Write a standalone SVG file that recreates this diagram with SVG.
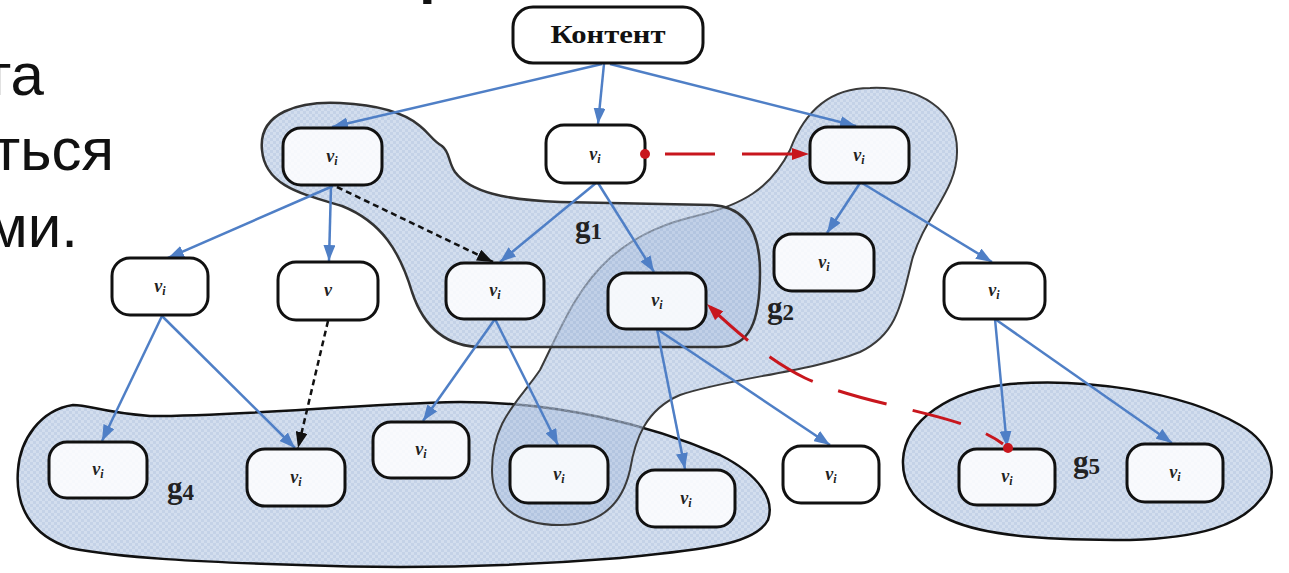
<svg xmlns="http://www.w3.org/2000/svg" width="1289" height="573" viewBox="0 0 1289 573">
  <style>
    .lead { font-family: "Liberation Sans", Arial, sans-serif; font-size: 60px; fill: #111; }
    .node { fill: #fff; fill-opacity: 0.85; stroke: #111; stroke-width: 3; }
    .vlab { font-family: "Liberation Serif", "Times New Roman", serif; font-style: italic; font-weight: bold; font-size: 18px; fill: #222; text-anchor: middle; }
    .vlab .sub { font-size: 12px; }
    .glab { font-family: "Liberation Serif", "Times New Roman", serif; font-weight: bold; font-size: 31px; fill: #222; }
    .glab .sub { font-size: 23px; }
    .blob { fill: url(#hatch); }
    .edge { stroke: #4f7fc6; stroke-width: 2.5; fill: none; marker-end: url(#arrBlue); }
    .dep { stroke: #111; stroke-width: 2.5; fill: none; stroke-dasharray: 6 4; marker-end: url(#arrBlack); }
    .link { stroke: #c8161d; stroke-width: 3; fill: none; stroke-dasharray: 50 27; marker-end: url(#arrRed); }
  </style>
  <defs>
    <pattern id="hatch" width="6" height="6" patternUnits="userSpaceOnUse">
      <rect width="6" height="6" fill="#b3c6e1" fill-opacity="0.58"/>
      <rect width="3" height="3" fill="#9fb6d8" fill-opacity="0.3"/>
      <rect x="3" y="3" width="3" height="3" fill="#9fb6d8" fill-opacity="0.3"/>
    </pattern>
    <marker id="arrBlue" markerUnits="userSpaceOnUse" markerWidth="16" markerHeight="12" refX="16" refY="6" orient="auto">
      <path d="M0,0 L16,6 L0,12 Z" fill="#4f7fc6"/>
    </marker>
    <marker id="arrBlack" markerUnits="userSpaceOnUse" markerWidth="16" markerHeight="12" refX="16" refY="6" orient="auto">
      <path d="M0,0 L16,6 L0,12 Z" fill="#111"/>
    </marker>
    <marker id="arrRed" markerUnits="userSpaceOnUse" markerWidth="17" markerHeight="12" refX="17" refY="6" orient="auto">
      <path d="M0,0 L17,6 L0,12 Z" fill="#c8161d"/>
    </marker>
  </defs>

  <rect width="1289" height="573" fill="#fff"/>

  <!-- slide text running in from the edges -->
  <text class="lead" x="419" y="-8" font-weight="bold">р</text>
  <text class="lead" x="44" y="95" text-anchor="end">та</text>
  <text class="lead" x="114" y="170" text-anchor="end">ться</text>
  <text class="lead" x="78" y="247" text-anchor="end">ми.</text>

  <!-- vertex groups -->
  <g id="group-g4">
    <path class="blob" stroke="#111" stroke-width="2.5" d="M 73,405 C 90,405 100,412 150,416 C 250,416 350,404 460,402 C 560,402 650,425 720,455 C 760,475 775,500 768,520 C 755,545 700,550 620,558 C 520,566 420,570 300,565 C 200,562 120,558 70,548 C 30,535 15,505 18,470 C 20,440 40,410 73,405 Z"/>
    <text class="glab" x="167" y="498">g<tspan class="sub" dy="2">4</tspan></text>
  </g>
  <g id="group-g2">
    <path class="blob" stroke="#3a3a3a" stroke-width="2" d="M 700,215 C 740,205 770,190 790,150 C 805,110 830,88 870,88 C 920,86 957,110 957,150 C 958,190 925,215 912,260 C 900,310 895,335 860,352 C 810,372 730,378 680,395 C 645,410 635,440 630,470 C 622,505 600,525 560,525 C 515,525 492,505 492,470 C 492,420 520,400 540,370 C 560,330 575,290 610,258 C 640,232 670,222 700,215 Z"/>
    <text class="glab" x="767" y="318">g<tspan class="sub" dy="2">2</tspan></text>
  </g>
  <g id="group-g1">
    <path class="blob" stroke="#333" stroke-width="2.5" d="M 262,150 C 258,112 300,101 340,103 C 380,105 405,113 420,126 C 430,134 432,140 442,146 C 450,152 448,162 455,172 C 470,192 505,200 560,202 L 712,205 C 748,207 760,235 760,272 C 760,322 750,347 718,347 L 482,347 C 442,347 422,322 412,292 C 400,252 382,222 342,206 C 302,194 265,186 262,150 Z"/>
    <text class="glab" x="575" y="237">g<tspan class="sub" dy="2">1</tspan></text>
  </g>
  <g id="group-g5">
    <path class="blob" stroke="#111" stroke-width="2.5" d="M 903,460 C 905,420 950,390 1010,384 C 1080,378 1180,390 1240,425 C 1275,445 1280,480 1260,500 C 1240,525 1200,538 1130,540 C 1060,540 990,538 950,520 C 915,505 902,485 903,460 Z"/>
    <text class="glab" x="1073" y="472">g<tspan class="sub" dy="2">5</tspan></text>
  </g>

  <!-- connectors -->
  <g id="connectors">
    <path class="edge" d="M 602,64 L 332,127"/>
    <path class="edge" d="M 604,64 L 598,124"/>
    <path class="edge" d="M 610,64 L 856,126"/>
    <path class="edge" d="M 333,186 L 168,258"/>
    <path class="edge" d="M 331,186 L 329,261"/>
    <path class="edge" d="M 596,183 L 500,262"/>
    <path class="edge" d="M 598,183 L 654,272"/>
    <path class="edge" d="M 860,183 L 827,233"/>
    <path class="edge" d="M 862,183 L 992,262"/>
    <path class="edge" d="M 162,316 L 102,441"/>
    <path class="edge" d="M 162,316 L 295,448"/>
    <path class="edge" d="M 495,319 L 423,421"/>
    <path class="edge" d="M 495,319 L 558,445"/>
    <path class="edge" d="M 657,329 L 685,469"/>
    <path class="edge" d="M 657,329 L 830,445"/>
    <path class="edge" d="M 995,319 L 1007,447"/>
    <path class="edge" d="M 995,319 L 1172,443"/>
    <path class="dep" d="M 337,187 L 493,262"/>
    <path class="dep" d="M 328,321 L 298,448"/>
    <path class="link" d="M 665,154 L 809,154"/>
    <path class="link" stroke-dashoffset="30" d="M 1003,444 C 960,412 870,408 805,378 C 772,362 738,334 707,304"/>
  </g>

  <!-- vertices -->
  <g id="node-content">
    <rect class="node" x="513" y="7" width="190" height="56" rx="20"/>
    <text x="608" y="43" font-family="Liberation Serif, Times New Roman, serif" font-weight="bold" font-size="26" fill="#111" text-anchor="middle" textLength="115" lengthAdjust="spacingAndGlyphs">Контент</text>
  </g>
  <g id="node-1"><rect class="node" x="283" y="128" width="99" height="57" rx="18"/><text class="vlab" x="332" y="162">v<tspan class="sub" dy="3">i</tspan></text></g>
  <g id="node-2"><rect class="node" x="546" y="125" width="99" height="58" rx="18"/><text class="vlab" x="595" y="160">v<tspan class="sub" dy="3">i</tspan></text></g>
  <g id="node-3"><rect class="node" x="810" y="127" width="99" height="56" rx="18"/><text class="vlab" x="859" y="161">v<tspan class="sub" dy="3">i</tspan></text></g>
  <g id="node-4"><rect class="node" x="112" y="258" width="96" height="57" rx="18"/><text class="vlab" x="160" y="292">v<tspan class="sub" dy="3">i</tspan></text></g>
  <g id="node-5"><rect class="node" x="278" y="262" width="100" height="58" rx="18"/><text class="vlab" x="328" y="296">v</text></g>
  <g id="node-6"><rect class="node" x="446" y="263" width="98" height="56" rx="18"/><text class="vlab" x="495" y="296">v<tspan class="sub" dy="3">i</tspan></text></g>
  <g id="node-7"><rect class="node" x="608" y="273" width="98" height="56" rx="18"/><text class="vlab" x="657" y="306">v<tspan class="sub" dy="3">i</tspan></text></g>
  <g id="node-8"><rect class="node" x="774" y="234" width="100" height="57" rx="18"/><text class="vlab" x="824" y="268">v<tspan class="sub" dy="3">i</tspan></text></g>
  <g id="node-9"><rect class="node" x="944" y="263" width="101" height="56" rx="18"/><text class="vlab" x="994" y="296">v<tspan class="sub" dy="3">i</tspan></text></g>
  <g id="node-10"><rect class="node" x="49" y="442" width="98" height="56" rx="18"/><text class="vlab" x="98" y="475">v<tspan class="sub" dy="3">i</tspan></text></g>
  <g id="node-11"><rect class="node" x="247" y="449" width="98" height="57" rx="18"/><text class="vlab" x="296" y="483">v<tspan class="sub" dy="3">i</tspan></text></g>
  <g id="node-12"><rect class="node" x="373" y="422" width="96" height="56" rx="18"/><text class="vlab" x="421" y="455">v<tspan class="sub" dy="3">i</tspan></text></g>
  <g id="node-13"><rect class="node" x="510" y="446" width="98" height="57" rx="18"/><text class="vlab" x="559" y="480">v<tspan class="sub" dy="3">i</tspan></text></g>
  <g id="node-14"><rect class="node" x="637" y="470" width="98" height="57" rx="18"/><text class="vlab" x="686" y="504">v<tspan class="sub" dy="3">i</tspan></text></g>
  <g id="node-15"><rect class="node" x="783" y="446" width="96" height="57" rx="18"/><text class="vlab" x="831" y="480">v<tspan class="sub" dy="3">i</tspan></text></g>
  <g id="node-16"><rect class="node" x="959" y="449" width="96" height="56" rx="18"/><text class="vlab" x="1007" y="482">v<tspan class="sub" dy="3">i</tspan></text></g>
  <g id="node-17"><rect class="node" x="1127" y="444" width="96" height="58" rx="18"/><text class="vlab" x="1175" y="478">v<tspan class="sub" dy="3">i</tspan></text></g>

  <!-- link origins -->
  <circle cx="645" cy="154" r="5" fill="#c8161d"/>
  <circle cx="1008" cy="448" r="5" fill="#c8161d"/>
</svg>
